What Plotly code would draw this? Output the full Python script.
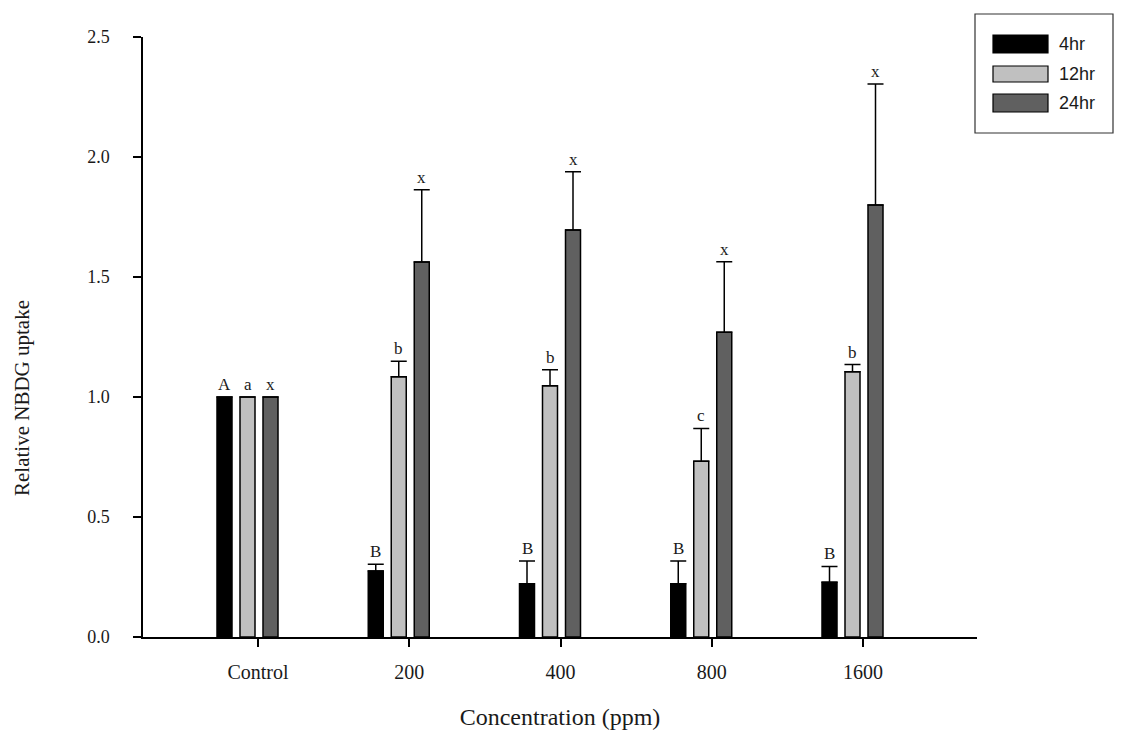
import plotly.graph_objects as go

# ---- data -------------------------------------------------------------
categories = ["Control", "200", "400", "800", "1600"]
series_names = ["4hr", "12hr", "24hr"]

uptake_4hr = [1.0, 0.275, 0.222, 0.222, 0.228]
uptake_12hr = [1.0, 1.084, 1.047, 0.732, 1.105]
uptake_24hr = [1.0, 1.562, 1.696, 1.270, 1.800]

err_4hr = [0.0, 0.028, 0.095, 0.095, 0.066]
err_12hr = [0.0, 0.065, 0.067, 0.137, 0.030]
err_24hr = [0.0, 0.302, 0.243, 0.294, 0.504]

letters_4hr = ["A", "B", "B", "B", "B"]
letters_12hr = ["a", "b", "b", "c", "b"]
letters_24hr = ["x", "x", "x", "x", "x"]

# ---- geometry / style -------------------------------------------------
W, H = 1121, 738
L, R, T, B = 143, 144, 37, 101
PLOT_W = W - L - R
PLOT_H = H - T - B
PX_PER_CAT = 151.25                     # pixels between category ticks
X_RANGE = [-115 / PX_PER_CAT, (PLOT_W - 115) / PX_PER_CAT]

BAR_W = 15 / PX_PER_CAT
OFFSETS = [-41 / PX_PER_CAT, -18 / PX_PER_CAT, 5 / PX_PER_CAT]
COLORS = ["#000000", "#c0c0c0", "#606060"]
SERIF = "Liberation Serif, Times New Roman, serif"
SANS = "Liberation Sans, Arial, sans-serif"
TEXT = "#1a1a1a"

values = [uptake_4hr, uptake_12hr, uptake_24hr]
errors = [err_4hr, err_12hr, err_24hr]
letters = [letters_4hr, letters_12hr, letters_24hr]
xs = list(range(len(categories)))

fig = go.Figure()
for name, vals, errs, col, off in zip(series_names, values, errors, COLORS, OFFSETS):
    fig.add_trace(go.Bar(
        name=name, x=xs, y=vals, width=BAR_W, offset=off,
        marker=dict(color=col, line=dict(color="#000000", width=1.5)),
        error_y=dict(type="data", symmetric=False, array=errs,
                     arrayminus=[0] * len(errs), color="#000000",
                     thickness=1.5, width=8),
        showlegend=False,
    ))

# significance letters above each error bar
annotations = []
for vals, errs, labs, off in zip(values, errors, letters, OFFSETS):
    for x, v, e, t in zip(xs, vals, errs, labs):
        annotations.append(dict(
            x=x + off + BAR_W / 2, y=v + e, xref="x", yref="y",
            text=t, showarrow=False, yanchor="bottom", yshift=1,
            font=dict(family=SERIF, size=17, color=TEXT),
        ))

def px_x(px):
    return (px - L) / PLOT_W

def px_y(py):
    return (H - B - py) / PLOT_H

# y-axis title, set a little below the middle of the axis
annotations.append(dict(
    x=px_x(22), y=px_y(398), xref="paper", yref="paper",
    text="Relative NBDG uptake", textangle=-90, showarrow=False,
    xanchor="center", yanchor="middle",
    font=dict(family=SERIF, size=21, color=TEXT),
))

# legend box drawn in paper coordinates
shapes = [dict(type="rect", xref="paper", yref="paper",
               x0=px_x(975), x1=px_x(1113), y0=px_y(133), y1=px_y(14),
               line=dict(color="#333333", width=1.2), fillcolor="white")]
swatch_rows = [(35, 53), (66, 82), (94, 112)]
for (y0, y1), col, name in zip(swatch_rows, COLORS, series_names):
    shapes.append(dict(type="rect", xref="paper", yref="paper",
                       x0=px_x(993), x1=px_x(1048), y0=px_y(y1), y1=px_y(y0),
                       line=dict(color="#000000", width=1.2), fillcolor=col))
    annotations.append(dict(x=px_x(1057), y=px_y((y0 + y1) / 2),
                            xref="paper", yref="paper", text=name,
                            showarrow=False, xanchor="left", yanchor="middle",
                            font=dict(family=SANS, size=18, color=TEXT)))

fig.update_layout(
    width=W, height=H,
    margin=dict(l=L, r=R, t=T, b=B, pad=0),
    paper_bgcolor="white", plot_bgcolor="white",
    barmode="overlay",
    shapes=shapes, annotations=annotations,
    xaxis=dict(
        range=X_RANGE, tickvals=xs, ticktext=categories,
        showline=True, linecolor="#000000", linewidth=1.5,
        ticks="outside", ticklen=8, tickwidth=1.5, tickcolor="#000000",
        showgrid=False, zeroline=False,
        tickfont=dict(family=SERIF, size=20, color=TEXT),
        ticklabelstandoff=8,
        title=dict(text="Concentration (ppm)", standoff=26,
                   font=dict(family=SERIF, size=24, color=TEXT)),
    ),
    yaxis=dict(
        range=[0, 2.5], tickvals=[0, 0.5, 1.0, 1.5, 2.0, 2.5],
        tickformat=".1f",
        showline=True, linecolor="#000000", linewidth=1.5,
        ticks="outside", ticklen=8, tickwidth=1.5, tickcolor="#000000",
        showgrid=False, zeroline=False,
        tickfont=dict(family=SERIF, size=18, color=TEXT),
        ticklabelstandoff=20,
    ),
)

fig.write_html("out.html")
